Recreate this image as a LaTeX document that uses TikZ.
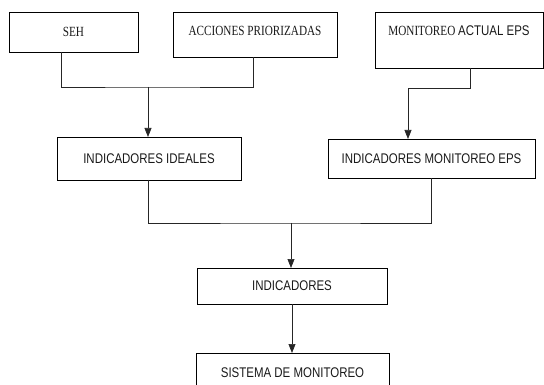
\documentclass[tikz,border=0pt]{standalone}
\usepackage{fontspec}
\usepackage{xcolor}
\usepackage{tikz}
\usetikzlibrary{positioning, calc, arrows.meta}
\newfontfamily\narrowserif{Liberation Serif}[FakeStretch=0.80]
\newfontfamily\narrowsans{Liberation Sans}[FakeStretch=0.82]

\begin{document}
\begin{tikzpicture}[x=1pt, y=-1pt]
% style: box_style
\tikzstyle{box_style}=[draw=black,line width=0.9pt,inner sep=0pt,outer sep=0pt,font=\fontsize{14}{16}\selectfont,text=black!90]
% style: line_style
\tikzstyle{line_style}=[line width=0.7pt,draw=black!85]
% style: arrow_style
\tikzstyle{arrow_style}=[line_style,-{Triangle[length=9pt,width=7pt]}]

\clip (0,0) rectangle (544,385);

% node group: top_group
% node: seh
\node[box_style, minimum width=129pt, minimum height=40pt] (seh) at (73.5, 32)
    {\narrowserif SEH};
% node: acciones
\node[box_style, minimum width=164pt, text height=24pt, text depth=21pt] (acciones) at (255, 34.5)
    {\narrowserif ACCIONES PRIORIZADAS};
% node: monitoreo_actual
\node[box_style, minimum width=168pt, text height=24pt, text depth=32pt] (monitoreo_actual) at (459, 40)
    {\narrowserif MONITOREO \narrowsans ACTUAL EPS};
% end of node group: top_group

% node group: middle_group
% node: ideales
\node[box_style, minimum width=184pt, minimum height=43pt] (ideales) at (149, 158.5)
    {\narrowsans INDICADORES IDEALES};
% node: monitoreo_eps
\node[box_style, minimum width=207pt, minimum height=39pt] (monitoreo_eps) at (431.5, 158.5)
    {\narrowsans INDICADORES MONITOREO EPS};
% end of node group: middle_group

% node group: bottom_group
% node: indicadores
\node[box_style, minimum width=190pt, minimum height=36pt] (indicadores) at (292, 286)
    {\narrowsans INDICADORES};
% node: sistema
\node[box_style, minimum width=193pt, text height=24pt, text depth=18pt] (sistema) at (292.5, 353)
    [anchor=north] {\narrowsans SISTEMA DE MONITOREO};
% end of node group: bottom_group

% joins
\coordinate (join_top) at (148, 87);
\coordinate (join_right) at (408, 88);
\coordinate (join_mid) at (291, 223);

% edge from seh and acciones to ideales
\draw[line_style] ([xshift=-12.5pt]seh.south) |- (join_top) -| ([xshift=-2pt]acciones.south);
\draw[arrow_style] (join_top) -- (join_top |- ideales.north);

% edge from monitoreo_actual to monitoreo_eps
\draw[arrow_style] ([xshift=11pt]monitoreo_actual.south) |- (join_right) -- (join_right |- monitoreo_eps.north);

% edge from ideales and monitoreo_eps to indicadores
\draw[line_style] ([xshift=-1pt]ideales.south) |- (join_mid) -| (monitoreo_eps.south);
\draw[arrow_style] (join_mid) -- (join_mid |- indicadores.north);

% edge from indicadores to sistema
\draw[arrow_style] (indicadores.south) -- (indicadores.south |- sistema.north);

\end{tikzpicture}
\end{document}
